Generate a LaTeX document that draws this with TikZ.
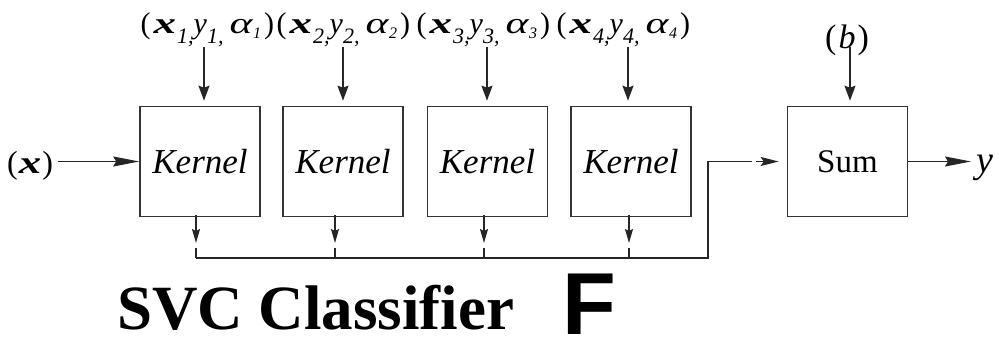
\documentclass[tikz,border=0pt]{standalone}
\usepackage{graphicx}
\usepackage{fontspec}
\setmainfont{Liberation Serif}
\newfontfamily\sansbold{Liberation Sans}
\usetikzlibrary{arrows.meta}
\newcommand\svsub[1]{\raisebox{-10pt}{\fontsize{22}{22}\selectfont\itshape #1,}}
\newcommand\svlab[1]{%
 \fontsize{30}{30}\selectfont(\kern3pt\scalebox{1.5}[1]{\textbf{\textit{x}}}\kern1pt%
 \svsub{#1}\textit{y}\svsub{#1}\kern6pt%
 \scalebox{1.45}[1]{\textit{α}}\raisebox{-5pt}{\fontsize{16}{16}\selectfont\itshape #1}\kern3pt)}
\begin{document}
\begin{tikzpicture}[x=1pt,y=-1pt,
  box/.style={draw=black!80,line width=1.6pt,minimum width=120pt,minimum height=110pt,inner sep=0pt,fill=white},
  ln/.style={draw=black!85,line width=1.5pt},
  arrT/.style={ln,-{Stealth[length=15pt,width=11pt,inset=2pt]}},
  arrL/.style={ln,-{Stealth[length=26pt,width=10pt,inset=3pt]}},
  arrB/.style={ln,-{Stealth[length=14pt,width=8pt,inset=2pt]}},
  lab/.style={anchor=base west,inner sep=0pt}]
\useasboundingbox (0,0) rectangle (999,338);
% kernel boxes
\node[box] (k1) at (200,161.5) {\fontsize{35}{35}\selectfont\itshape Kernel};
\node[box] (k2) at (343,161.5) {\fontsize{35}{35}\selectfont\itshape Kernel};
\node[box] (k3) at (487.5,161.5) {\fontsize{35}{35}\selectfont\itshape Kernel};
\node[box] (k4) at (631,161.5) {\fontsize{35}{35}\selectfont\itshape Kernel};
\node[box] (sum) at (847.5,161.5) {\fontsize{33}{33}\selectfont Sum};
% labels
\node[lab] (l1) at (140.5,33) {\svlab{1}};
\node[lab] (l2) at (276.5,33) {\svlab{2}};
\node[lab] (l3) at (416.5,33) {\svlab{3}};
\node[lab] (l4) at (556.5,33) {\svlab{4}};
\node[lab] (lb) at (825,48) {\fontsize{34}{34}\selectfont(\kern2pt\textit{b}\kern2pt)};
\node[lab] (lx) at (7,173) {\fontsize{32}{32}\selectfont(\kern1pt\scalebox{1.4}[1]{\textbf{\textit{x}}}\kern1pt)};
\node[lab] (ly) at (976,172) {\fontsize{38}{38}\selectfont\textit{y}};
\node[lab] (svc) at (117,329) {\fontsize{63}{63}\selectfont\bfseries SVC Classifier};
\node[lab] (ff) at (562,334) {\fontsize{88}{88}\selectfont\sansbold\bfseries F};
% top arrows
\coordinate (t1) at (204,47);
\coordinate (t2) at (343,47);
\coordinate (t3) at (487,47);
\coordinate (t4) at (628,47);
\coordinate (tb) at (850,47);
\foreach \t/\k in {t1/k1,t2/k2,t3/k3,t4/k4,tb/sum}
  \draw[arrT,shorten >=5pt] (\t) -- (\t |- \k.north);
% input and output
\coordinate (xs) at (58,161.5);
\draw[arrL] (xs) -- (k1.west);
\coordinate (ye) at (971,161.5);
\draw[arrL] (sum.east) -- (ye);
% bottom arrows to bus
\foreach \k/\xx in {k1/196,k2/335,k3/484,k4/629}{
  \coordinate (b\k) at (\xx,215);
  \draw[arrB] (b\k) -- ++(0,28);
  \draw[ln] (\xx,248) -- (\xx,258);
}
\coordinate (bl) at (196,258);
\coordinate (br) at (708,258);
\coordinate (bt) at (708,161.5);
\coordinate (bm) at (752,161.5);
\draw[ln] (bl) -- (br) -- (bt) -- (bm);
\draw[ln,-{Stealth[length=18pt,width=9pt,inset=3pt]}] (756,161.5) -- ([xshift=-8pt]sum.west);
\end{tikzpicture}
\end{document}
